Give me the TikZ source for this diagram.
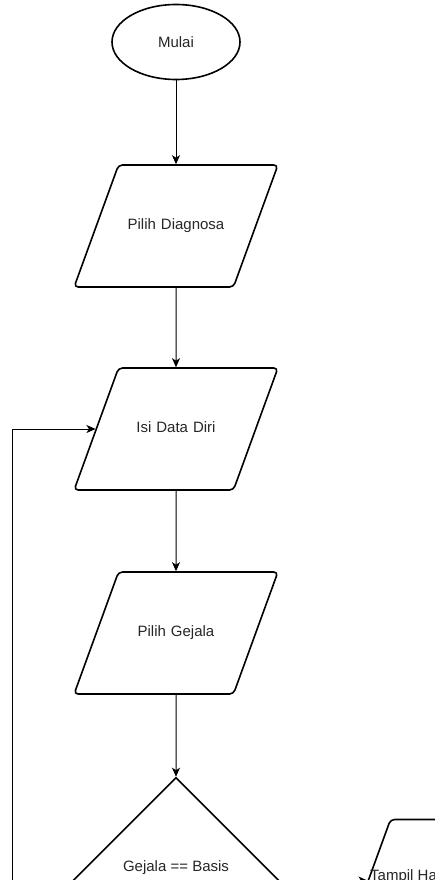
\documentclass[tikz,border=0pt]{standalone}
\usepackage{fontspec}
\setmainfont{Liberation Sans}
\usetikzlibrary{shapes.geometric,arrows.meta}

\begin{document}
\begin{tikzpicture}[x=1pt, y=-1pt,
        every node/.style={font=\fontsize{15}{18}\selectfont, text=black!85},
        startbox/.style={ellipse, draw, line width=1.6pt, inner sep=0pt,
            minimum width=128pt, minimum height=75pt},
        iobox/.style={trapezium, trapezium left angle=70, trapezium right angle=110,
            draw, line width=1.6pt, rounded corners=4pt, align=center,
            text width=115pt, text height=11pt, text depth=4pt,
            inner xsep=0pt, inner ysep=53.5pt},
        cekbox/.style={diamond, aspect=1, draw, line width=1.6pt, inner sep=0pt,
            minimum width=206pt, minimum height=206pt},
        arr/.style={line width=1pt, -{Stealth[length=9pt, width=8pt, inset=2.5pt]}}
    ]
        \useasboundingbox (0, 0) rectangle (435, 880);
        \clip (0, 0) rectangle (435, 880);
        % 开始
        \node[startbox] (mulai) at (176, 42) {Mulai};
        % 输入
        \node[iobox] (diagnosa) at (176, 226) {Pilih Diagnosa};
        \node[iobox] (datadiri) at (176, 429) {Isi Data Diri};
        \node[iobox] (gejala) at (176, 633) {Pilih Gejala};
        % 判断
        \node[cekbox] (cek) at (176, 880.5) {};
        \node (cektext) at (176, 868) {Gejala == Basis};
        \node[iobox] (tampil) at (448, 880.5) {};
        \node[anchor=west, inner sep=0pt] (tampiltext) at (370, 877) {Tampil Ha};
        \coordinate (kiri) at (12, 1010);
        % 连线
        \draw[arr] (mulai) -- (diagnosa);
        \draw[arr] (diagnosa) -- (datadiri);
        \draw[arr] (datadiri) -- (gejala);
        \draw[arr] (gejala) -- (cek);
        \draw[arr] (cek.east) -- (tampil.west);
        \draw[arr] (cek.south) |- (kiri) |- (datadiri.west);
    \end{tikzpicture}
\end{document}
